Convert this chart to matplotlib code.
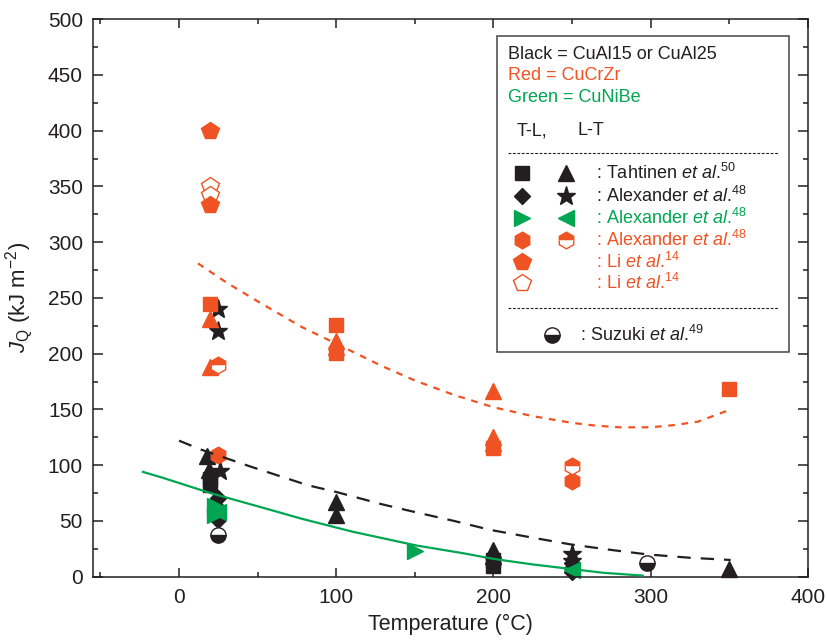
import matplotlib
matplotlib.use('Agg')
import matplotlib.pyplot as plt
from matplotlib.ticker import MultipleLocator

plt.rcParams['font.family'] = ['Liberation Sans', 'DejaVu Sans']
plt.rcParams['mathtext.fontset'] = 'custom'
plt.rcParams['mathtext.rm'] = 'Liberation Sans'
plt.rcParams['mathtext.it'] = 'Liberation Sans:italic'

RED = '#F05323'
GREEN = '#00A651'
BLACK = '#231F20'

# --- data (temperature in C, J_Q in kJ/m2) ---
# black = CuAl15 / CuAl25
blk_sq_x = [20, 20, 200, 200]
blk_sq_y = [88, 82, 15, 10]
blk_tri_x = [18, 19, 100, 100, 200, 200, 350]
blk_tri_y = [108, 96, 67, 55, 24, 19, 7]
blk_dia_x = [25, 25, 25, 250, 250, 250]
blk_dia_y = [71, 62, 51, 12, 8, 4]
blk_star_x = [25, 25, 26, 250, 250]
blk_star_y = [240, 220, 95, 20, 14]

# green = CuNiBe
grn_right_x = [23, 23, 150]
grn_right_y = [63, 55, 23]
grn_left_x = [25, 250]
grn_left_y = [58, 6]

# red = CuCrZr
red_sq_x = [20, 100, 100, 200, 350]
red_sq_y = [245, 226, 201, 115, 168]
red_tri_x = [20, 20, 100, 100, 200, 200, 200]
red_tri_y = [231, 188, 211, 206, 167, 125, 120]
red_hex_x = [25, 250]
red_hex_y = [109, 86]
red_halfhex_x = [25, 250]
red_halfhex_y = [190, 99]
red_pent_x = [20, 20]
red_pent_y = [400, 333]
red_openpent_x = [20, 20]
red_openpent_y = [350, 342]

# Suzuki
suz_x = [25, 298]
suz_y = [37, 12]

# trend curves
red_fit_x = [12, 30, 50, 78, 100, 129, 150, 175, 200, 225, 250, 265, 280, 300, 315, 330, 351]
red_fit_y = [281, 264, 247, 224, 209, 189, 176, 163, 152, 144, 138, 135.5, 134, 134, 136, 139, 150]
blk_fit_x = [0, 14, 45, 82, 100, 129, 150, 175, 198, 225, 249, 275, 298, 325, 351]
blk_fit_y = [122, 114, 99, 82, 76, 65, 58, 50, 42, 35, 29, 24, 20, 17, 15]
grn_fit_x = [-23, -11, 20, 53, 78, 110, 151, 181, 200, 225, 249, 270, 295]
grn_fit_y = [94, 89, 75, 62, 52, 40.5, 28, 21, 16, 11, 7, 3.5, 1]

fig = plt.figure(figsize=(8.27, 6.41), dpi=100)
ax = fig.add_axes([0.112, 0.1003, 0.8647, 0.8697])

ax.set_xlim(-55, 400)
ax.set_ylim(0, 500)

ms = 12
ax.plot(blk_sq_x, blk_sq_y, 's', color=BLACK, ms=10, zorder=2, clip_on=False)
ax.plot(blk_tri_x, blk_tri_y, '^', color=BLACK, ms=ms, zorder=2, clip_on=False)
ax.plot(blk_dia_x, blk_dia_y, 'D', color=BLACK, ms=8, zorder=2, clip_on=False)
ax.plot(blk_star_x, blk_star_y, '*', color=BLACK, ms=14, zorder=2, clip_on=False)
ax.plot(grn_right_x, grn_right_y, '>', color=GREEN, ms=ms, zorder=2, clip_on=False)
ax.plot(grn_left_x, grn_left_y, '<', color=GREEN, ms=ms, zorder=2, clip_on=False)
ax.plot(red_sq_x, red_sq_y, 's', color=RED, ms=10, zorder=2)
ax.plot(red_tri_x, red_tri_y, '^', color=RED, ms=ms, zorder=2)
ax.plot(red_hex_x, red_hex_y, 'h', color=RED, ms=ms, zorder=2)
ax.plot(red_halfhex_x, red_halfhex_y, 'h', color=RED, ms=ms, fillstyle='top',
        markerfacecoloralt='white', markeredgecolor=RED, mew=1, zorder=2)
ax.plot(red_openpent_x, red_openpent_y, 'p', ms=13, mfc='white', mec=RED, mew=1, zorder=2)
ax.plot(red_pent_x, red_pent_y, 'p', color=RED, ms=13, zorder=2)
ax.plot(suz_x, suz_y, 'o', ms=11, mfc=BLACK, fillstyle='bottom',
        markerfacecoloralt='white', mec=BLACK, mew=1, zorder=2, clip_on=False)

ax.plot(red_fit_x, red_fit_y, color=RED, lw=1.6, ls=(0, (3, 3)), zorder=3)
ax.plot(blk_fit_x, blk_fit_y, color=BLACK, lw=1.6, ls=(0, (6, 4.5)), zorder=3)
ax.plot(grn_fit_x, grn_fit_y, color=GREEN, lw=1.6, zorder=3)

# axes styling
ax.xaxis.set_major_locator(MultipleLocator(100))
ax.xaxis.set_minor_locator(MultipleLocator(50))
ax.yaxis.set_major_locator(MultipleLocator(50))
ax.yaxis.set_minor_locator(MultipleLocator(25))
ax.tick_params(which='both', direction='in', top=True, right=True,
               color=BLACK, width=1.1, labelsize=15, labelcolor=BLACK)
ax.tick_params(axis='x', which='major', length=6.7, pad=8)
ax.tick_params(axis='y', which='major', length=7.5, pad=7)
ax.tick_params(which='minor', length=3.5)
for sp in ax.spines.values():
    sp.set_linewidth(1.1)
    sp.set_color(BLACK)

ax.set_xlabel('Temperature (\u00b0C)', fontsize=15.5, color=BLACK, labelpad=5)
ax.set_ylabel(r'$J_{\mathrm{Q}}$ (kJ m$^{-2}$)', fontsize=16, color=BLACK, labelpad=9)

# hand-made legend box
T = ax.transAxes
box = plt.Rectangle((0.566, 0.4037), 0.408, 0.5669, transform=T, fill=True,
                    facecolor='white', edgecolor='#444444', lw=1.1, zorder=4)
ax.add_patch(box)
fs = 13
ax.text(0.5813, 0.9372, 'Black = CuAl15 or CuAl25', transform=T, fontsize=fs,
        color=BLACK, va='center', zorder=5)
ax.text(0.5813, 0.8988, 'Red = CuCrZr', transform=T, fontsize=fs, color=RED,
        va='center', zorder=5)
ax.text(0.5813, 0.8593, 'Green = CuNiBe', transform=T, fontsize=fs, color=GREEN,
        va='center', zorder=5)
ax.text(0.593, 0.7996, 'T-L,', transform=T, fontsize=fs, color=BLACK, va='center', zorder=5)
ax.text(0.6778, 0.7996, 'L-T', transform=T, fontsize=fs, color=BLACK, va='center', zorder=5)
for yy in [0.7596, 0.4826]:
    ax.plot([0.5808, 0.9585], [yy, yy], transform=T, color=BLACK, lw=0.8,
            ls=(0, (2.5, 1.5)), zorder=5)

rows_y = [0.7237, 0.6835, 0.6440, 0.6041, 0.5651, 0.5264]
c1, c2, ct = 0.6008, 0.662, 0.7039
kw = dict(transform=T, zorder=6, clip_on=False)
ax.plot(c1, rows_y[0], 's', color=BLACK, ms=10, **kw)
ax.plot(c2, rows_y[0], '^', color=BLACK, ms=ms, **kw)
ax.plot(c1, rows_y[1], 'D', color=BLACK, ms=8, **kw)
ax.plot(c2, rows_y[1], '*', color=BLACK, ms=14, **kw)
ax.plot(c1, rows_y[2], '>', color=GREEN, ms=ms, **kw)
ax.plot(c2, rows_y[2], '<', color=GREEN, ms=ms, **kw)
ax.plot(c1, rows_y[3], 'h', color=RED, ms=ms, **kw)
ax.plot(c2, rows_y[3], 'h', color=RED, ms=ms, fillstyle='top',
        markerfacecoloralt='white', mec=RED, mew=1, **kw)
ax.plot(c1, rows_y[4], 'p', color=RED, ms=13, **kw)
ax.plot(c1, rows_y[5], 'p', ms=13, mfc='white', mec=RED, mew=1, **kw)
ax.plot(0.642, 0.4336, 'o', ms=11, mfc=BLACK, fillstyle='bottom',
        markerfacecoloralt='white', mec=BLACK, mew=1, **kw)

labels = [(r': Tahtinen $\mathit{et\ al}$.$^{50}$', BLACK),
          (r': Alexander $\mathit{et\ al}$.$^{48}$', BLACK),
          (r': Alexander $\mathit{et\ al}$.$^{48}$', GREEN),
          (r': Alexander $\mathit{et\ al}$.$^{48}$', RED),
          (r': Li $\mathit{et\ al}$.$^{14}$', RED),
          (r': Li $\mathit{et\ al}$.$^{14}$', RED)]
for (txt, col), yy in zip(labels, rows_y):
    ax.text(ct, yy, txt, transform=T, fontsize=fs, color=col, va='center', zorder=6)
ax.text(0.6812, 0.4336, r': Suzuki $\mathit{et\ al}$.$^{49}$', transform=T,
        fontsize=fs, color=BLACK, va='center', zorder=6)

fig.savefig('out.png', dpi=100)
plt.close(fig)
